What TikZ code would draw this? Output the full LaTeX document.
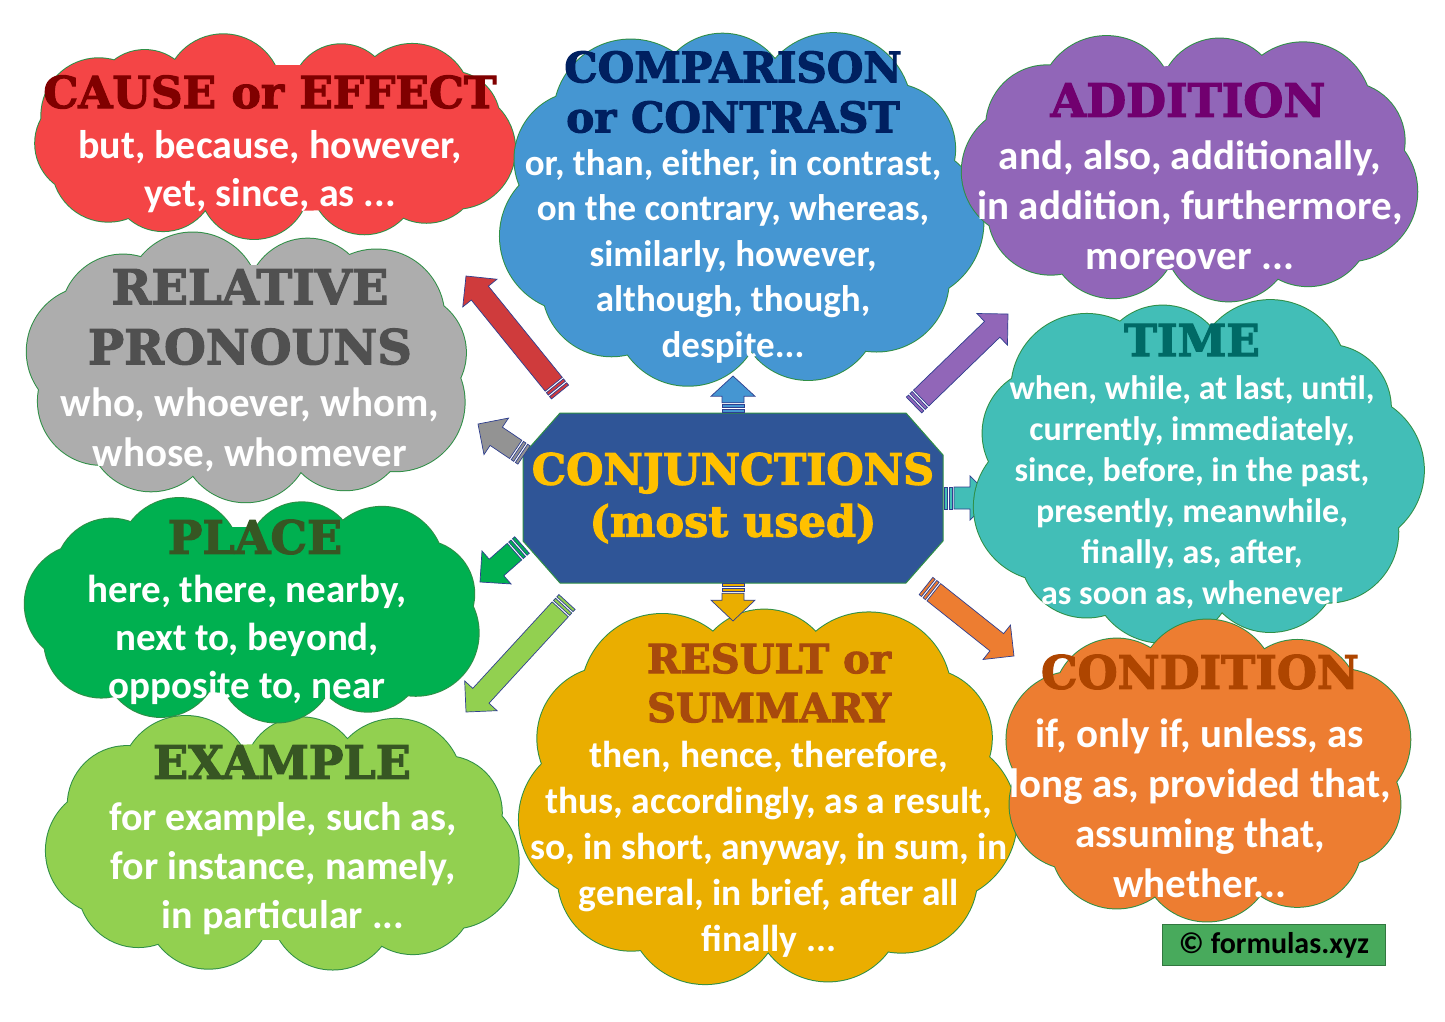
\documentclass[tikz,border=0pt]{standalone}
\usepackage{fontspec}
\setmainfont{Carlito}
\newfontfamily\headfam[BoldFeatures={FakeBold=2.5}]{DejaVu Serif}
\usetikzlibrary{decorations.markings}
\definecolor{cRed}{HTML}{F44546}
\definecolor{cBlue}{HTML}{4596D2}
\definecolor{cPurple}{HTML}{9166B8}
\definecolor{cGray}{HTML}{ADADAD}
\definecolor{cTeal}{HTML}{42BEB7}
\definecolor{cPlace}{HTML}{00B050}
\definecolor{cExample}{HTML}{92D050}
\definecolor{cResult}{HTML}{EAAE00}
\definecolor{cOrange}{HTML}{ED7D31}
\definecolor{cOct}{HTML}{2F5597}
\definecolor{cYellow}{HTML}{FFC000}
\definecolor{cCredit}{HTML}{48AA5C}
\definecolor{tRed}{HTML}{800000}
\definecolor{tBlue}{HTML}{002060}
\definecolor{tPurple}{HTML}{71006F}
\definecolor{tGray}{HTML}{505050}
\definecolor{tTeal}{HTML}{006A66}
\definecolor{tGreen}{HTML}{375623}
\definecolor{tResult}{HTML}{A84A0C}
\definecolor{tOrange}{HTML}{AE4500}
\definecolor{cloudLine}{HTML}{2F8F46}
\definecolor{arrLine}{HTML}{2F3F8F}
\newcommand\hdfont[2]{\headfam\bfseries\fontsize{#1}{#2}\selectfont}
\newcommand\bdfont[2]{\bfseries\fontsize{#1}{#2}\selectfont}
% centre points of the puffs lie on a super-ellipse
\newcommand\bpx[2]{{\bcx+(\ba+#2)*(cos(#1)<0?-1:1)*pow(abs(cos(#1))+0.0001,0.8)}}
\newcommand\bpy[2]{{\bcy+(\bb+#2)*(sin(#1)<0?-1:1)*pow(abs(sin(#1))+0.0001,0.8)}}
\newcommand\blobcircles{%
  \foreach \k [evaluate=\k as \tt using 360*\k/\bN+\bphase] in {1,...,\bN} {
    (\bpx{\tt}{0},\bpy{\tt}{0}) circle[radius={\br*(1+0.1*sin(173*\k+\bphase))}]
  }}
\newcommand\cloudblob[8]{% name, cx, cy, W, H, r, colour, phase
  \pgfmathsetmacro\bcx{#2}\pgfmathsetmacro\bcy{#3}\pgfmathsetmacro\br{#6}
  \pgfmathsetmacro\bphase{#8}
  \pgfmathsetmacro\ba{#4/2-#6}
  \pgfmathsetmacro\bb{#5/2-#6}
  \pgfmathsetmacro\bgrow{0.5*#6}
  \pgfmathtruncatemacro\bN{round(3.3*(\ba+\bb)/(1.12*#6))}
  \draw[cloudLine, line width=2pt] \blobcircles;
  \fill[#7] \blobcircles;
  \fill[#7] plot[domain=0:357, samples=120] (\bpx{\x}{\bgrow},\bpy{\x}{\bgrow}) -- cycle;
  \node[minimum width=#4pt, minimum height=#5pt, inner sep=0pt] (#1) at (#2,#3) {};
}
\begin{document}
\begin{tikzpicture}[x=1pt,y=-1pt,
  headtxt/.style={align=center, inner sep=0pt},
  bodytxt/.style={align=center, inner sep=0pt, text=white},
  sarrow/.style={postaction={decorate, decoration={markings, mark=at position 0 with {
     \pgfmathsetmacro\arL{\pgfdecoratedpathlength}
     \pgfmathsetmacro\arH{min(22,\arL*0.55)}
     \pgfmathsetmacro\arB{\arL-\arH}
     \filldraw[fill=#1, draw=arrLine, line width=0.7pt]
        (0pt,-11pt) rectangle (3pt,11pt)
        (5pt,-11pt) rectangle (8pt,11pt);
     \filldraw[fill=#1, draw=arrLine, line width=0.7pt]
        (10pt,-11pt) -- (\arB pt,-11pt) -- (\arB pt,-22pt) -- (\arL pt,0pt)
        -- (\arB pt,22pt) -- (\arB pt,11pt) -- (10pt,11pt) -- cycle;
  }}}}
]
\useasboundingbox (0,0) rectangle (1445,1022);
\fill[white] (0,0) rectangle (1445,1022);

% coordinates for connectors
\coordinate (aRedS) at (560,392);
\coordinate (aRedE) at (466,276);
\coordinate (aGrayS) at (524,455);
\coordinate (aGrayE) at (478,424);
\coordinate (aPlaceS) at (522,545);
\coordinate (aPlaceE) at (480,582);
\coordinate (aExS) at (567,602);
\coordinate (aExE) at (466,712);
\coordinate (aPurS) at (914,405);
\coordinate (aPurE) at (1008,314);
\coordinate (aTealS) at (944,498);
\coordinate (aTealE) at (992,498);
\coordinate (aOrS) at (926,586);
\coordinate (aOrE) at (1014,656);
\coordinate (aUpE) at (733,376);
\coordinate (aDownE) at (733,621);

% CAUSE or EFFECT
\cloudblob{causeC}{272}{138}{480}{200}{54}{cRed}{10}
% RELATIVE PRONOUNS
\cloudblob{relC}{249}{367}{445}{268}{64}{cGray}{25}
\node[headtxt, text=tRed, font=\hdfont{44}{50}] (causeH) at (270,92) {CAUSE or EFFECT};
\node[bodytxt, font=\bdfont{40}{48}] (causeB) at (270,172) {but, because, however,\\yet, since, as ...};
\node[headtxt, text=tGray, font=\hdfont{48}{60}] (relH) at (250,317) {RELATIVE\\PRONOUNS};
\node[bodytxt, font=\bdfont{41}{50}] (relB) at (250,430) {who, whoever, whom,\\whose, whomever};

% COMPARISON or CONTRAST
\cloudblob{compC}{739}{207}{476}{358}{72}{cBlue}{5}
\node[headtxt, text=tBlue, font=\hdfont{42}{50}] (compH) at (733,92) {COMPARISON\\or CONTRAST};
\node[bodytxt, font=\bdfont{37}{45.5}] (compB) at (733,256) {or, than, either, in contrast,\\on the contrary, whereas,\\similarly, however,\\although, though,\\despite...};

% ADDITION
\cloudblob{addC}{1190}{168}{452}{268}{64}{cPurple}{15}
\node[headtxt, text=tPurple, font=\hdfont{46}{52}] (addH) at (1188,100) {ADDITION};
\node[bodytxt, font=\bdfont{41}{50}] (addB) at (1190,205) {and, also, additionally,\\in addition, furthermore,\\moreover ...};

% TIME (connector partly behind)
\path[sarrow=cTeal] (aTealS) -- (aTealE);
\cloudblob{timeC}{1195}{470}{444}{342}{70}{cTeal}{0}
\node[headtxt, text=tTeal, font=\hdfont{44}{50}] (timeH) at (1192,340) {TIME};
\node[bodytxt, font=\bdfont{34}{41}] (timeB) at (1192,492) {when, while, at last, until,\\currently, immediately,\\since, before, in the past,\\presently, meanwhile,\\finally, as, after,\\as soon as, whenever};

% EXAMPLE
\cloudblob{exC}{282}{842}{468}{258}{62}{cExample}{12}
\node[headtxt, text=tGreen, font=\hdfont{46}{52}] (exH) at (282,762) {EXAMPLE};
\node[bodytxt, font=\bdfont{40}{49}] (exB) at (283,869) {for example, such as,\\for instance, namely,\\in particular ...};

% PLACE
\cloudblob{placeC}{254}{610}{456}{224}{58}{cPlace}{20}
\node[headtxt, text=tGreen, font=\hdfont{46}{52}] (placeH) at (255,537) {PLACE};
\node[bodytxt, font=\bdfont{39}{48}] (placeB) at (247,640) {here, there, nearby,\\next to, beyond,\\opposite to, near};

% RESULT or SUMMARY
\cloudblob{resC}{766}{795}{490}{382}{76}{cResult}{8}
\node[headtxt, text=tResult, font=\hdfont{40}{49}] (resH) at (769,683) {RESULT or\\SUMMARY};
\node[bodytxt, font=\bdfont{37.5}{46}] (resB) at (769,849) {then, hence, therefore,\\thus, accordingly, as a result,\\so, in short, anyway, in sum, in\\general, in brief, after all\\finally ...};

% CONDITION
\cloudblob{condC}{1207}{772}{408}{298}{66}{cOrange}{18}
\node[headtxt, text=tOrange, font=\hdfont{46}{52}] (condH) at (1200,672) {CONDITION};
\node[bodytxt, font=\bdfont{41}{50}] (condB) at (1200,808) {if, only if, unless, as\\long as, provided that,\\assuming that,\\whether...};

% centre octagon
\filldraw[fill=cOct, draw=cloudLine, line width=1pt]
  (523,455) -- (560,413) -- (906,413) -- (943,455) -- (943,541) -- (906,583) -- (560,583) -- (523,541) -- cycle;
\node[minimum width=420pt, minimum height=170pt, inner sep=0pt] (oct) at (733,498) {};
\node[headtxt, text=cYellow, font=\hdfont{43}{52}] (octT) at (733,498) {CONJUNCTIONS\\(most used)};

% connectors
\path[sarrow=cBlue] (oct.north) -- (aUpE);
\path[sarrow=cResult] (oct.south) -- (aDownE);
\path[sarrow=cRed!85!black] (aRedS) -- (aRedE);
\path[sarrow=cGray!85!black] (aGrayS) -- (aGrayE);
\path[sarrow=cPlace] (aPlaceS) -- (aPlaceE);
\path[sarrow=cExample] (aExS) -- (aExE);
\path[sarrow=cPurple] (aPurS) -- (aPurE);
\path[sarrow=cOrange] (aOrS) -- (aOrE);

% credit
\node[fill=cCredit, draw=cCredit!70!black, line width=0.5pt, minimum width=223pt, minimum height=41pt,
  inner sep=0pt, font=\bdfont{30}{34}] (credit) at (1274,945) {© formulas.xyz};
\end{tikzpicture}
\end{document}
